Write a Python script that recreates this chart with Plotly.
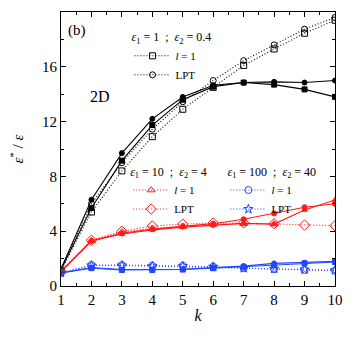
import plotly.graph_objects as go

# k values
k = [1, 2, 3, 4, 5, 6, 7, 8, 9, 10]

# eps1 = 1 ; eps2 = 0.4 (black)
blk_l1 = [1.1, 5.4, 8.4, 10.9, 12.9, 14.5, 16.1, 17.3, 18.45, 19.4]
blk_lpt = [1.2, 6.0, 9.0, 11.45, 13.45, 15.0, 16.45, 17.6, 18.75, 19.6]
blk_sq = [1.2, 5.7, 9.15, 11.75, 13.6, 14.55, 14.85, 14.7, 14.35, 13.8]
blk_ci = [1.25, 6.3, 9.7, 12.2, 13.8, 14.65, 14.85, 14.9, 14.85, 15.0]

# eps1 = 10 ; eps2 = 4 (red)
k_red_l1 = [1, 2, 3, 4, 5, 6, 7, 8]
red_l1 = [1.05, 3.3, 3.95, 4.2, 4.35, 4.5, 4.55, 4.52]
red_lpt = [1.1, 3.35, 4.0, 4.38, 4.52, 4.6, 4.6, 4.55, 4.45, 4.4]
red_tri = [1.05, 3.28, 3.8, 4.1, 4.3, 4.45, 4.57, 4.52, 5.55, 6.28]
red_ci = [1.05, 3.3, 3.85, 4.15, 4.35, 4.55, 4.87, 5.3, 5.75, 6.0]

# eps1 = 100 ; eps2 = 40 (blue)
blu_l1 = [0.95, 1.53, 1.53, 1.48, 1.48, 1.41, 1.3, 1.22, 1.17, 1.12]
blu_lpt = [0.95, 1.5, 1.5, 1.45, 1.45, 1.4, 1.3, 1.25, 1.2, 1.15]
blu_sq = [0.95, 1.3, 1.17, 1.17, 1.2, 1.3, 1.4, 1.5, 1.65, 1.75]
blu_ci = [0.95, 1.35, 1.2, 1.2, 1.22, 1.35, 1.45, 1.65, 1.7, 1.8]

RED = '#ff1a1a'
BLUE = '#2346ff'
FONT = 'Liberation Serif, Times New Roman, serif'
DOT = '1px,2px'

fig = go.Figure()


def add(x, y, color, symbol, dash, name=None, legend='legend', size=5):
    fig.add_trace(go.Scatter(
        x=x, y=y, mode='lines+markers', name=name or '',
        showlegend=name is not None, legend=legend,
        line=dict(color=color, width=1.1, dash=dash),
        marker=dict(symbol=symbol, size=size, color=color,
                    line=dict(color=color, width=1))))


# simulation (solid, filled)
add(k, blk_sq, 'black', 'square', 'solid')
add(k, blk_ci, 'black', 'circle', 'solid')
add(k, red_tri, RED, 'triangle-up', 'solid')
add(k, red_ci, RED, 'circle', 'solid')
add(k, blu_sq, BLUE, 'square', 'solid')
add(k, blu_ci, BLUE, 'circle', 'solid')

# theory (dotted, open)
add(k, blk_l1, 'black', 'square-open', DOT, '<i>l</i> = 1', 'legend', 6)
add(k, blk_lpt, 'black', 'circle-open', DOT, 'LPT', 'legend', 6)
add(k_red_l1, red_l1, RED, 'triangle-up-open', DOT, '<i>l</i> = 1', 'legend2', 7)
add(k, red_lpt, RED, 'diamond-open', DOT, 'LPT', 'legend2', 8)
add(k, blu_l1, BLUE, 'circle-open', DOT, '<i>l</i> = 1', 'legend3', 7)
add(k, blu_lpt, BLUE, 'star-open', DOT, 'LPT', 'legend3', 7)

leg = dict(bgcolor='rgba(0,0,0,0)', font=dict(family=FONT, size=11, color='black'),
           tracegroupgap=0, itemwidth=36, xanchor='left', yanchor='top')
tfont = dict(family=FONT, size=12)

fig.update_layout(
    width=338, height=325,
    margin=dict(l=53, r=11, t=4, b=47),
    paper_bgcolor='white', plot_bgcolor='white',
    font=dict(family=FONT, size=15, color='black'),
    legend=dict(leg, x=0.25, y=0.95,
                title=dict(text='<i>ε</i><sub>1</sub> = 1  ;  <i>ε</i><sub>2</sub> = 0.4',
                           font=tfont)),
    legend2=dict(leg, x=0.245, y=0.46,
                 title=dict(text='<i>ε</i><sub>1</sub> = 10  ;  <i>ε</i><sub>2</sub> = 4',
                            font=tfont)),
    legend3=dict(leg, x=0.6, y=0.46,
                 title=dict(text='<i>ε</i><sub>1</sub> = 100  ;  <i>ε</i><sub>2</sub> = 40',
                            font=tfont)),
    annotations=[
        dict(text='(b)', x=0.02, y=0.97, xref='paper', yref='paper',
             xanchor='left', yanchor='top', showarrow=False,
             font=dict(family=FONT, size=15)),
        dict(text='2D', x=0.1, y=0.73, xref='paper', yref='paper',
             xanchor='left', yanchor='top', showarrow=False,
             font=dict(family=FONT, size=16)),
    ],
)

axis = dict(showline=True, linecolor='black', linewidth=1, mirror='ticks',
            ticks='inside', ticklen=5, tickcolor='black', showgrid=False,
            zeroline=False, tickfont=dict(family=FONT, size=15))

fig.update_xaxes(axis, range=[1, 10], dtick=1, tick0=1,
                 minor=dict(ticks='inside', ticklen=3, dtick=0.5, tickcolor='black'),
                 title=dict(text='<i>k</i>', font=dict(family=FONT, size=16), standoff=2))
fig.update_yaxes(axis, range=[0, 20], dtick=4,
                 minor=dict(ticks='inside', ticklen=3, dtick=2, tickcolor='black'),
                 title=dict(text='<i>ε</i><sup>*</sup> / <i>ε</i>',
                            font=dict(family=FONT, size=15), standoff=14))

fig.write_html('out.html')
